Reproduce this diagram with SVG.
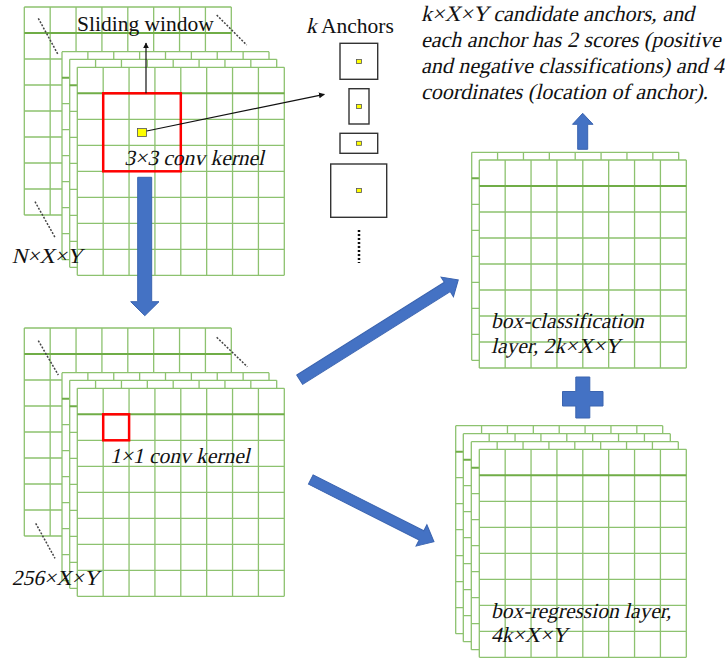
<svg xmlns="http://www.w3.org/2000/svg" xmlns:xlink="http://www.w3.org/1999/xlink" width="728" height="660" viewBox="0 0 728 660">
<style>
.gl{stroke:#8DC26F;stroke-width:1.3;fill:none}
.gh{stroke:#70AD47;stroke-width:2;fill:none}
.t{font-family:"Liberation Serif","Times New Roman",serif;font-size:21.5px;fill:#111}
.b{font-size:22px}
.blue{fill:#4472C4;stroke:#3B64B0;stroke-width:1}
.dot{stroke:#444;stroke-width:1.5;stroke-dasharray:2 1.5;fill:none}
.anc{fill:#fff;stroke:#333;stroke-width:1.4}
.ydot{fill:#FFFF00;stroke:#555;stroke-width:0.8}
.thin{stroke:#111;stroke-width:1.2;fill:none;marker-end:url(#ah)}
.red{fill:none;stroke:#FF0000;stroke-width:2.5}
</style>
<defs>
<marker id="ah" viewBox="0 0 10 10" refX="9" refY="5" markerWidth="6" markerHeight="6" orient="auto" markerUnits="userSpaceOnUse">
<path d="M0,0 L10,5 L0,10 z" fill="#111"/>
</marker>
<g id="grid">
<rect x="0" y="0" width="207" height="208" fill="#fff"/>
<path class="gl" d="M0,0V208M25.875,0V208M51.75,0V208M77.625,0V208M103.5,0V208M129.375,0V208M155.25,0V208M181.125,0V208M207,0V208M0,0H207M0,52H207M0,78H207M0,104H207M0,130H207M0,156H207M0,182H207M0,208H207"/>
<path class="gh" d="M0,26H207"/>
</g>
</defs>

<g id="input-stack">
<use xlink:href="#grid" x="24.3" y="7"/>
<line class="dot" x1="38.3" y1="18.3" x2="58.3" y2="55"/>
<line class="dot" x1="216.7" y1="15" x2="246.7" y2="45"/>
<line class="dot" x1="35" y1="201.7" x2="55" y2="237.3"/>
<use xlink:href="#grid" x="62" y="51.7"/>
<use xlink:href="#grid" x="69.7" y="59.3"/>
<use xlink:href="#grid" x="77.3" y="67.3"/>
<rect class="red" x="103.2" y="93.3" width="77.6" height="78"/>
<rect class="ydot" x="137.5" y="128.5" width="9" height="8"/>
<text class="t" x="77" y="31">Sliding window</text>
<text class="t" transform="translate(124.3 165) skewX(-13)">3×3 conv kernel</text>
<text class="t" transform="translate(11.7 263) skewX(-13)">N×X×Y</text>
</g>

<g id="anchors">
<text class="t" transform="translate(306 33) skewX(-13)">k</text>
<text class="t" x="321" y="33">Anchors</text>
<rect class="anc" x="340" y="43.3" width="37.7" height="36"/>
<rect class="ydot" x="356.5" y="59.5" width="5" height="4"/>
<rect class="anc" x="349" y="88.7" width="20" height="35.3"/>
<rect class="ydot" x="356.5" y="104.5" width="5" height="4"/>
<rect class="anc" x="340" y="133.3" width="37.7" height="20"/>
<rect class="ydot" x="356.5" y="141.3" width="5" height="4"/>
<rect class="anc" x="330.7" y="164" width="56" height="53.3"/>
<rect class="ydot" x="356.5" y="188.5" width="5" height="4"/>
<line x1="359" y1="230" x2="359" y2="263" stroke="#111" stroke-width="2.5" stroke-dasharray="2 2"/>
</g>

<g id="output-text">
<text class="t b" transform="translate(421 21) skewX(-13)">k×X×Y candidate anchors, and</text>
<text class="t b" transform="translate(421 47) skewX(-13)">each anchor has 2 scores (positive</text>
<text class="t b" transform="translate(421 73) skewX(-13)">and negative classifications) and 4</text>
<text class="t b" transform="translate(421 99) skewX(-13)">coordinates (location of anchor).</text>
</g>

<g id="feature-stack">
<use xlink:href="#grid" x="24.3" y="328"/>
<line class="dot" x1="38.3" y1="340.7" x2="58.3" y2="375"/>
<line class="dot" x1="216.7" y1="337.3" x2="247.3" y2="366.7"/>
<line class="dot" x1="35.7" y1="523.3" x2="55" y2="558.3"/>
<use xlink:href="#grid" x="62" y="372.7"/>
<use xlink:href="#grid" x="69.7" y="380.3"/>
<use xlink:href="#grid" x="77.3" y="388.3"/>
<rect class="red" x="103.2" y="414.3" width="25.9" height="26"/>
<text class="t" transform="translate(110 463.3) skewX(-13)">1×1 conv kernel</text>
<text class="t" transform="translate(11.7 585) skewX(-13)">256×X×Y</text>
</g>

<g id="cls-layer">
<use xlink:href="#grid" x="471.7" y="152.3"/>
<use xlink:href="#grid" x="479.3" y="160"/>
<text class="t" transform="translate(491 328.3) skewX(-13)">box-classification</text>
<text class="t" transform="translate(491 353.3) skewX(-13)">layer, 2k×X×Y</text>
</g>

<g id="reg-layer">
<use xlink:href="#grid" x="455.7" y="425.7"/>
<use xlink:href="#grid" x="463.3" y="433.7"/>
<use xlink:href="#grid" x="471.3" y="441.7"/>
<use xlink:href="#grid" x="479.3" y="449.3"/>
<text class="t" transform="translate(491 617.5) skewX(-13)">box-regression layer,</text>
<text class="t" transform="translate(491 641.5) skewX(-13)">4k×X×Y</text>
</g>

<g id="plus">
<path class="blue" d="M575.8,377H589.8V391.5H603V406H589.8V418H575.8V406H562.5V391.5H575.8Z"/>
</g>

<g id="connectors">
<line class="thin" x1="146" y1="93.3" x2="146" y2="43"/>
<line class="thin" x1="146.7" y1="131" x2="324.3" y2="94.3"/>
<path class="blue" d="M137.7,177.3H151.7V301.7H159L144.8,315.7L130.7,301.7H137.7Z"/>
<path class="blue" d="M577.7,149.3V124.3H572.5L582.7,113.3L593,124.3H587.7V149.3Z"/>
<polygon class="blue" transform="translate(299.7 379.7) rotate(-32.16)" points="0,-5.5 174.3,-5.5 174.3,-11.6 187.3,0 174.3,11.6 174.3,5.5 0,5.5"/>
<polygon class="blue" transform="translate(310.8 479.5) rotate(26.8)" points="0,-5.2 124,-5.2 124,-12 138,0 124,12 124,5.2 0,5.2"/>
</g>
</svg>
